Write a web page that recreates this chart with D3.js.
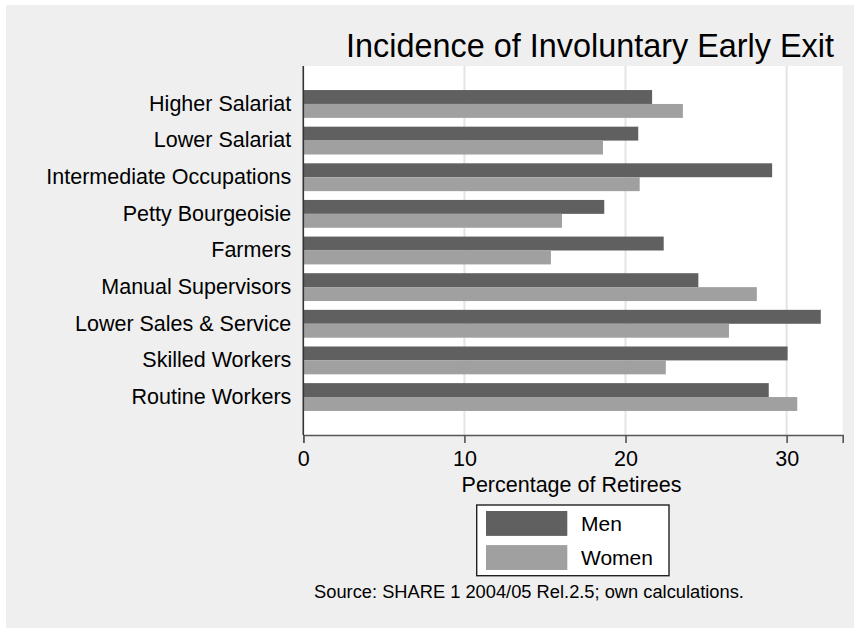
<!DOCTYPE html>
<html>
<head>
<meta charset="utf-8">
<script src="https://cdn.jsdelivr.net/npm/d3@7/dist/d3.min.js"></script>
<style>
  html, body { margin: 0; padding: 0; background: #ffffff; }
  svg { display: block; font-family: "Liberation Sans", Arial, sans-serif; }
</style>
</head>
<body>
<svg id="chart" width="854" height="628"></svg>
<script>
const categories = ["Higher Salariat", "Lower Salariat", "Intermediate Occupations", "Petty Bourgeoisie", "Farmers", "Manual Supervisors", "Lower Sales & Service", "Skilled Workers", "Routine Workers"];
const seriesNames = ["Men", "Women"];
const men = [21.65, 20.79, 29.1, 18.68, 22.37, 24.52, 32.12, 30.06, 28.89];
const women = [23.56, 18.6, 20.88, 16.06, 15.37, 28.15, 26.42, 22.5, 30.66];
const xTicks = [0, 10, 20, 30];
const titleText = "Incidence of Involuntary Early Exit";
const xTitle = "Percentage of Retirees";
const noteText = "Source: SHARE 1 2004/05 Rel.2.5; own calculations.";

const colors = {Men: "#606060", Women: "#a0a0a0"};
const svg = d3.select("#chart");

// outer gray panel
svg.append("rect").attr("x", 6).attr("y", 5).attr("width", 848).attr("height", 623).attr("fill", "#efefef");

const plot = {left: 303.3, right: 842.7, top: 66, bottom: 435};

const x = d3.scaleLinear().domain([0, 33.48]).range([plot.left, plot.right]);
const y = d3.scaleBand().domain(categories).range([plot.top, plot.bottom]).paddingInner(0.24).paddingOuter(0.656);
const ySub = d3.scaleBand().domain(seriesNames).range([0, y.bandwidth()]);

// plot region
svg.append("rect").attr("x", plot.left).attr("y", plot.top)
  .attr("width", plot.right - plot.left).attr("height", plot.bottom - plot.top).attr("fill", "#ffffff");

// grid
svg.append("g").selectAll("line").data(xTicks.filter(d => d > 0)).join("line")
  .attr("x1", d => x(d)).attr("x2", d => x(d))
  .attr("y1", plot.top).attr("y2", plot.bottom)
  .attr("stroke", "#e4e4e4").attr("stroke-width", 2);

// bars
const rows = categories.map((c, i) => ({cat: c, Men: men[i], Women: women[i]}));
const g = svg.append("g");
rows.forEach(r => {
  seriesNames.forEach(s => {
    g.append("rect")
      .attr("x", x(0))
      .attr("y", y(r.cat) + ySub(s))
      .attr("width", x(r[s]) - x(0))
      .attr("height", ySub.bandwidth())
      .attr("fill", colors[s]);
  });
});

// x axis
const xAxis = d3.axisBottom(x).tickValues(xTicks).tickSize(8).tickPadding(8).tickFormat(d3.format("d"));
const xg = svg.append("g").attr("transform", `translate(0,${plot.bottom})`).call(xAxis);
xg.select(".domain").attr("stroke", "#555").attr("stroke-width", 1.6);
xg.selectAll(".tick line").attr("stroke", "#555").attr("stroke-width", 1.6);
xg.selectAll(".tick text").attr("font-size", 21.5).attr("fill", "#000").attr("font-family", "Liberation Sans, Arial, sans-serif");

// y axis
const yAxis = d3.axisLeft(y).tickSize(0).tickPadding(12);
const yg = svg.append("g").attr("transform", `translate(${plot.left},0)`).call(yAxis);
yg.select(".domain").remove();
yg.selectAll(".tick text").attr("font-size", 21.5).attr("fill", "#000").attr("font-family", "Liberation Sans, Arial, sans-serif");
svg.append("line").attr("x1", plot.left).attr("x2", plot.left).attr("y1", plot.top).attr("y2", plot.bottom)
  .attr("stroke", "#333").attr("stroke-width", 1.6);

// title
svg.append("text").attr("x", 590).attr("y", 57).attr("text-anchor", "middle")
  .attr("font-size", 32.4).attr("fill", "#000").text(titleText);

// x title
svg.append("text").attr("x", 571.5).attr("y", 492).attr("text-anchor", "middle")
  .attr("font-size", 21.5).attr("fill", "#000").text(xTitle);

// legend
const lg = svg.append("g");
lg.append("rect").attr("x", 476.7).attr("y", 505).attr("width", 192.3).attr("height", 70.7)
  .attr("fill", "#fff").attr("stroke", "#222").attr("stroke-width", 1.4);
const legY = d3.scaleBand().domain(seriesNames).range([511, 570]).paddingInner(0.27);
seriesNames.forEach(s => {
  lg.append("rect").attr("x", 486).attr("y", legY(s)).attr("width", 81.3).attr("height", legY.bandwidth()).attr("fill", colors[s]);
  lg.append("text").attr("x", 581).attr("y", legY(s) + legY.bandwidth() / 2).attr("dy", "0.35em")
    .attr("font-size", 21).attr("fill", "#000").text(s);
});

// note
svg.append("text").attr("x", 529).attr("y", 598).attr("text-anchor", "middle")
  .attr("font-size", 18.3).attr("fill", "#000").text(noteText);
</script>
</body>
</html>
